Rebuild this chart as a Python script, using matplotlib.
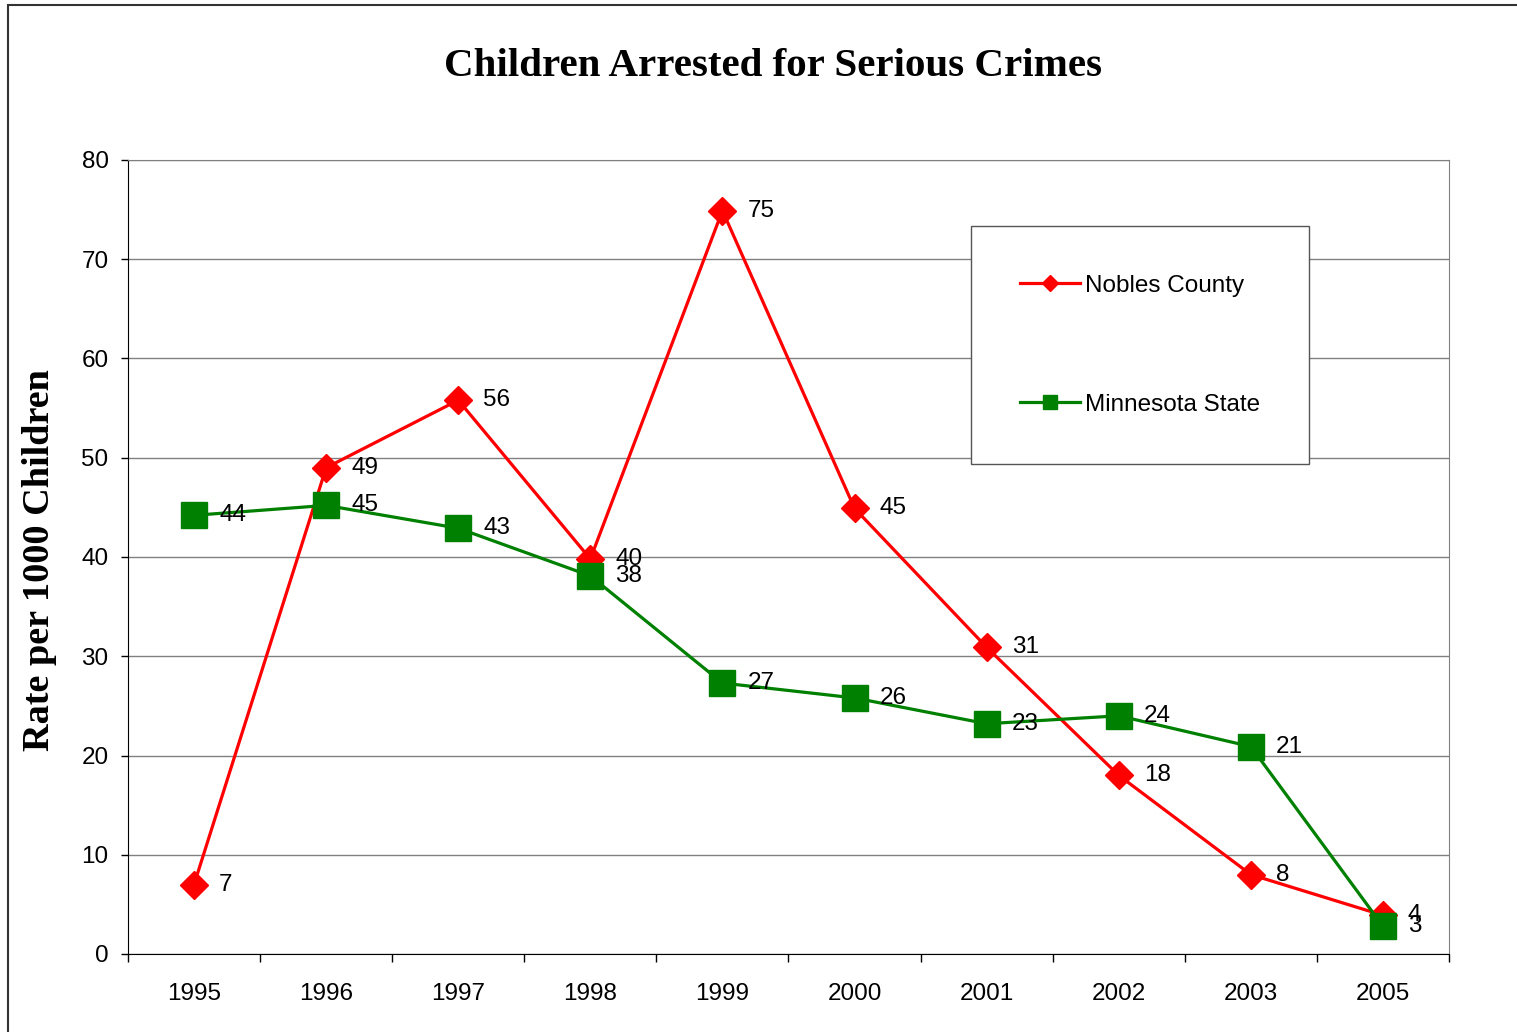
import matplotlib.pyplot as plt
from matplotlib.patches import Rectangle

years = ["1995", "1996", "1997", "1998", "1999", "2000", "2001", "2002", "2003", "2005"]
nobles = [7.0, 49.0, 55.8, 39.8, 74.9, 44.9, 30.9, 18.0, 8.0, 3.9]
minnesota = [44.2, 45.2, 42.9, 38.1, 27.3, 25.8, 23.2, 24.0, 20.9, 2.8]

FS = 17.5
SANS = "Liberation Sans"

fig = plt.figure(figsize=(15.17, 10.32), dpi=100)
ax = fig.add_axes([128 / 1517, 1 - 954 / 1032, (1449 - 128) / 1517, (954 - 160) / 1032])

# outer chart frame
fig.patches.append(Rectangle((8 / 1517, -0.5), 2, 1.5 - 5 / 1032, transform=fig.transFigure,
                             fill=False, edgecolor="#333333", linewidth=1.5))

x = list(range(len(years)))
ax.plot(x, nobles, color="#ff0000", lw=2.3, marker="D", markersize=14,
        label="Nobles County", zorder=3)
ax.plot(x, minnesota, color="#008000", lw=2.3, marker="s", markersize=19,
        label="Minnesota State", zorder=3)

for series in (nobles, minnesota):
    for xi, v in zip(x, series):
        ax.annotate(f"{v:.0f}", (xi, v), xytext=(18, 0), textcoords="offset points",
                    va="center", ha="left", fontsize=FS, family=SANS, zorder=4)

ax.set_xlim(-0.5, len(years) - 0.5)
ax.set_ylim(0, 80)
ax.set_yticks(range(0, 81, 10))
ax.set_xticks(x)
ax.set_xticklabels(years)
ax.set_xticks([i - 0.5 for i in range(len(years) + 1)], minor=True)
ax.tick_params(axis="x", which="major", length=0, pad=21)
ax.tick_params(axis="x", which="minor", length=6, direction="out", width=1)
ax.tick_params(axis="y", length=5, direction="out", width=1, pad=9)
for lab in ax.get_xticklabels() + ax.get_yticklabels():
    lab.set_fontsize(FS)
    lab.set_family(SANS)

ax.grid(axis="y", color="#808080", lw=1)
ax.set_axisbelow(True)
ax.spines["top"].set_color("#808080")
ax.spines["right"].set_color("#808080")
ax.spines["left"].set_color("black")
ax.spines["bottom"].set_color("black")

fig.text(773 / 1517, 1 - 67 / 1032, "Children Arrested for Serious Crimes",
         ha="center", va="center", fontsize=29.5, fontweight="bold", family="Liberation Serif")
fig.text(40 / 1517, 1 - 560 / 1032, "Rate per 1000 Children", rotation=90,
         ha="center", va="center", fontsize=27.5, fontweight="bold", family="Liberation Serif")

leg = ax.legend(loc="upper left", bbox_to_anchor=(971 / 1517, 1 - 226 / 1032),
                bbox_transform=fig.transFigure, borderaxespad=0, fancybox=False,
                framealpha=1, edgecolor="#555555", borderpad=2.0, labelspacing=4.0,
                handlelength=2.5, handletextpad=0.2, markerscale=0.55,
                prop={"family": SANS, "size": FS})
leg.get_frame().set_linewidth(1)

fig.savefig("out.png", dpi=100)
